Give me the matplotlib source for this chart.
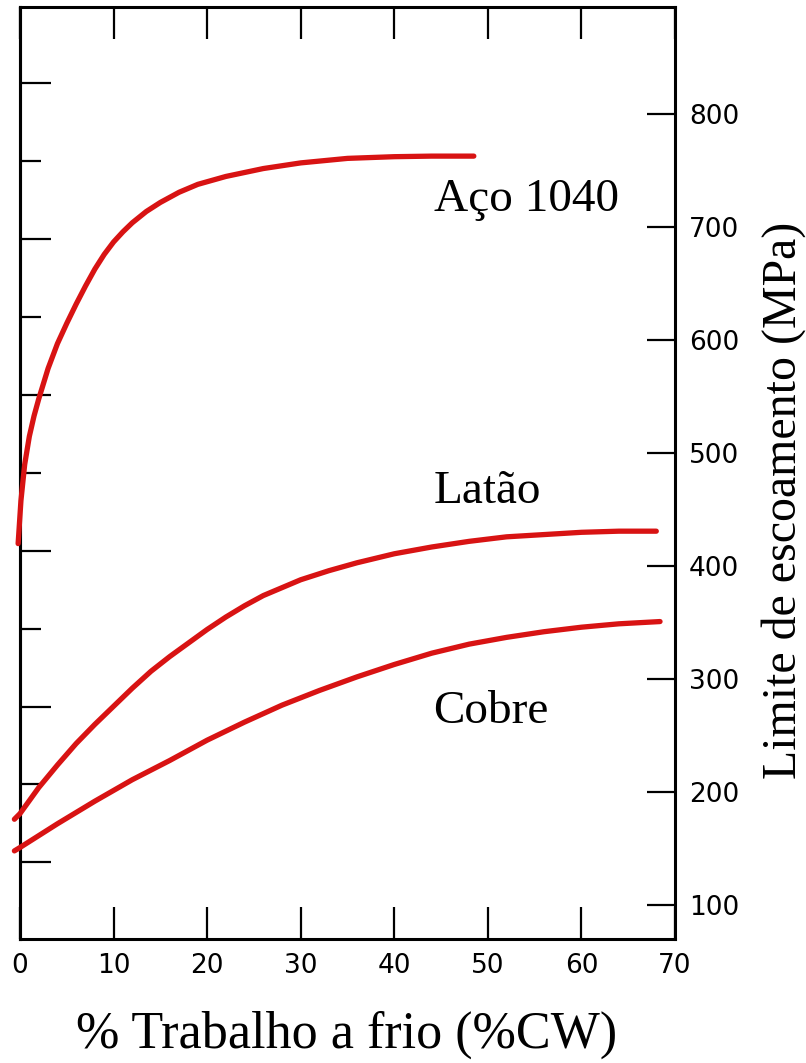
import matplotlib
matplotlib.use('Agg')
import matplotlib.pyplot as plt

# ── values (x = %CW, y = yield strength in MPa) ──

cw_aco = [-0.2, 0.1, 0.5, 1.0, 1.5, 2.0, 3.0, 4.0, 5.0, 6.0, 7.0, 8.0, 9.0, 10.0,
          11.0, 12.0, 13.5, 15.0, 17.0, 19.0, 22.0, 26.0, 30.0, 35.0, 40.0, 44.0, 48.5]
mpa_aco = [420, 458, 490, 515, 533, 548, 575, 597, 615, 632, 648, 663, 676, 687,
           696, 704, 714, 722, 731, 738, 745, 752, 757, 761, 762.5, 763, 763]

cw_latao = [-0.6, 0, 2, 4, 6, 8, 10, 12, 14, 16, 18, 20, 22, 24, 26, 28, 30, 33, 36,
            40, 44, 48, 52, 56, 60, 64, 68]
mpa_latao = [176, 181, 204, 224, 243, 260, 276, 292, 307, 320, 332, 344, 355, 365,
             374, 381, 388, 396, 403, 411, 417, 422, 426, 428, 430, 431, 431]

cw_cobre = [-0.6, 0, 4, 8, 12, 16, 20, 24, 28, 32, 36, 40, 44, 48, 52, 56, 60, 64, 68.4]
mpa_cobre = [148, 151, 172, 192, 211, 228, 246, 262, 277, 290, 302, 313, 323, 331,
             337, 342, 346, 349, 351]

labels = ['Aço 1040', 'Latão', 'Cobre']
label_pos = [(44.2, 714), (44.2, 456), (44.2, 261)]

x_ticks = [0, 10, 20, 30, 40, 50, 60, 70]
mpa_ticks = [100, 200, 300, 400, 500, 600, 700, 800]
ksi_major = [20, 40, 60, 80, 100, 120]
ksi_minor = [30, 50, 70, 90, 110]

RED = '#d81313'
SERIF = 'Liberation Serif'
MPA_PER_KSI = 6.895

# ── figure ─────────────────────────────────────────────────────

fig = plt.figure(figsize=(8.06, 10.63), dpi=100)
ax = fig.add_axes([20 / 806, 124 / 1063, 655 / 806, 932 / 1063])

for xs, ys in [(cw_aco, mpa_aco), (cw_latao, mpa_latao), (cw_cobre, mpa_cobre)]:
    ax.plot(xs, ys, color=RED, lw=3.8, solid_capstyle='round',
            solid_joinstyle='round', clip_on=False, zorder=3)

for txt, (x, y) in zip(labels, label_pos):
    ax.text(x, y, txt, family=SERIF, fontsize=34, ha='left', va='baseline')

ax.set_xlim(0, 70)
ax.set_ylim(70, 895)

for sp in ax.spines.values():
    sp.set_linewidth(2.2)

ax.set_xticks(x_ticks)
ax.tick_params(axis='x', direction='in', top=True, bottom=True, length=23, width=1.6,
               pad=10, labelsize=19)
ax.yaxis.tick_right()
ax.set_yticks(mpa_ticks)
ax.tick_params(axis='y', direction='in', left=False, right=True, length=20, width=1.6,
               pad=10, labelsize=19)

# left axis: ksi ticks, no labels
sec = ax.secondary_yaxis('left', functions=(lambda m: m / MPA_PER_KSI,
                                            lambda k: k * MPA_PER_KSI))
sec.set_yticks(ksi_major)
sec.set_yticks(ksi_minor, minor=True)
sec.set_yticklabels([])
sec.tick_params(which='major', direction='in', length=22, width=1.6)
sec.tick_params(which='minor', direction='in', length=15, width=1.6)
sec.spines['left'].set_linewidth(2.2)

fig.text(347 / 806, 1 - 1035 / 1063, '% Trabalho a frio (%CW)', family=SERIF,
         fontsize=37.5, ha='center', va='center')
fig.text(784 / 806, 1 - 500 / 1063, 'Limite de escoamento (MPa)', family=SERIF,
         fontsize=34.5, rotation=90, ha='center', va='center')

fig.savefig('out.png', dpi=100)
